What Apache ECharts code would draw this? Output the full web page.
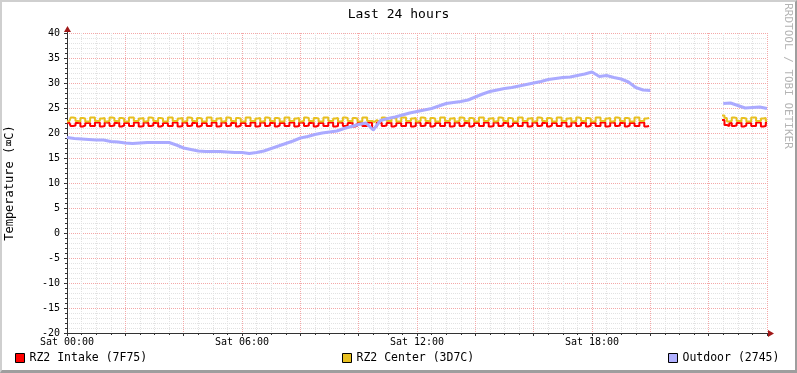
<!DOCTYPE html>
<html>
<head>
<meta charset="utf-8">
<script src="https://cdn.jsdelivr.net/npm/echarts@6/dist/echarts.min.js"></script>
<style>
html,body{margin:0;padding:0;background:#fff;}
#wrap{position:relative;width:797px;height:373px;}
#c{position:absolute;left:0;top:0;width:797px;height:373px;}
#frame{position:absolute;left:0;top:0;width:797px;height:373px;box-sizing:border-box;
border-top:2px solid #cfcfcf;border-left:2px solid #cfcfcf;border-bottom:3px solid #9e9e9e;border-right:2px solid #9e9e9e;pointer-events:none;}
</style>
</head>
<body>
<div id="wrap"><div id="c"></div><div id="frame"></div></div>
<script>
// 5-minute samples 00:00 - 19:55
const intakeA = [
22.1,22.0,21.4,21.5, 22.0,22.1,21.3,21.5, 22.0,22.0,21.4,21.4, 22.1,22.1,21.3,21.4, 22.1,22.0,21.4,21.5,
22.0,22.1,21.3,21.5, 22.0,22.0,21.4,21.4, 22.1,22.1,21.3,21.4, 22.1,22.0,21.4,21.5, 22.0,22.1,21.3,21.5,
22.0,22.0,21.4,21.4, 22.1,22.1,21.3,21.4, 22.1,22.0,21.4,21.5, 22.0,22.1,21.3,21.5, 22.0,22.0,21.4,21.4,
22.1,22.1,21.3,21.4, 22.1,22.0,21.4,21.5, 22.0,22.1,21.3,21.5, 22.0,22.0,21.4,21.4, 22.1,22.1,21.3,21.4,
22.1,22.0,21.4,21.5, 22.0,22.1,21.3,21.5, 22.0,22.0,21.4,21.4, 22.1,22.1,21.3,21.4, 22.1,22.0,21.4,21.5,
22.0,22.1,21.3,21.5, 22.0,22.0,21.4,21.4, 22.1,22.1,21.3,21.4, 22.1,22.0,21.4,21.5, 22.0,22.1,21.3,21.5,
22.0,22.0,21.4,21.4, 22.1,22.1,21.0,21.3, 22.1,22.0,21.4,21.5, 22.0,22.1,21.3,21.5, 22.0,22.0,21.4,21.4,
22.1,22.1,21.3,21.4, 22.1,22.0,21.4,21.5, 22.0,22.1,21.3,21.5, 22.0,22.0,21.4,21.4, 22.1,22.1,21.3,21.4,
22.1,22.0,21.4,21.5, 22.0,22.1,21.3,21.5, 22.0,22.0,21.4,21.4, 22.1,22.1,21.3,21.4, 22.1,22.0,21.4,21.5,
22.0,22.1,21.3,21.5, 22.0,22.0,21.4,21.4, 22.1,22.1,21.3,21.4, 22.1,22.0,21.4,21.5, 22.0,22.1,21.3,21.5,
22.0,22.0,21.4,21.4, 22.1,22.1,21.3,21.4, 22.1,22.0,21.4,21.5, 22.0,22.1,21.3,21.5, 22.0,22.0,21.4,21.4,
22.1,22.1,21.3,21.4, 22.1,22.0,21.4,21.5, 22.0,22.1,21.3,21.5, 22.0,22.0,21.4,21.4, 22.1,22.1,21.3,21.4
];
// 5-minute samples 22:30 - 24:00
const intakeB = [22.6,21.6,21.4,22.0,21.4,21.5, 22.0,22.1,21.3,21.5, 22.0,22.0,21.4,21.4, 22.1,22.1,21.3,21.4, 22.1];

const centerA = [
22.3,22.4,23.1,23.0, 22.4,22.3,23.0,22.9, 22.3,22.3,23.1,23.1, 22.4,22.4,22.9,23.0, 22.3,22.4,23.1,23.0,
22.4,22.3,23.0,22.9, 22.3,22.3,23.1,23.1, 22.4,22.4,22.9,23.0, 22.3,22.4,23.1,23.0, 22.4,22.3,23.0,22.9,
22.3,22.3,23.1,23.1, 22.4,22.4,22.9,23.0, 22.3,22.4,23.1,23.0, 22.4,22.3,23.0,22.9, 22.3,22.3,23.1,23.1,
22.4,22.4,22.9,23.0, 22.3,22.4,23.1,23.0, 22.4,22.3,23.0,22.9, 22.3,22.3,23.1,23.1, 22.4,22.4,22.9,23.0,
22.3,22.4,23.1,23.0, 22.4,22.3,23.0,22.9, 22.3,22.3,23.1,23.1, 22.4,22.4,22.9,23.0, 22.3,22.4,23.1,23.0,
22.4,22.3,23.0,22.9, 22.3,22.3,23.1,23.1, 22.4,22.4,22.9,23.0, 22.3,22.4,23.1,23.0, 22.4,22.3,23.0,22.9,
22.3,22.3,23.1,23.1, 22.4,22.4,22.2,22.6, 22.3,22.4,23.1,23.0, 22.4,22.3,23.0,22.9, 22.3,22.3,23.1,23.1,
22.4,22.4,22.9,23.0, 22.3,22.4,23.1,23.0, 22.4,22.3,23.0,22.9, 22.3,22.3,23.1,23.1, 22.4,22.4,22.9,23.0,
22.3,22.4,23.1,23.0, 22.4,22.3,23.0,22.9, 22.3,22.3,23.1,23.1, 22.4,22.4,22.9,23.0, 22.3,22.4,23.1,23.0,
22.4,22.3,23.0,22.9, 22.3,22.3,23.1,23.1, 22.4,22.4,22.9,23.0, 22.3,22.4,23.1,23.0, 22.4,22.3,23.0,22.9,
22.3,22.3,23.1,23.1, 22.4,22.4,22.9,23.0, 22.3,22.4,23.1,23.0, 22.4,22.3,23.0,22.9, 22.3,22.3,23.1,23.1,
22.4,22.4,22.9,23.0, 22.3,22.4,23.1,23.0, 22.4,22.3,23.0,22.9, 22.3,22.3,23.1,23.1, 22.4,22.4,22.9,23.0
];
const centerB = [23.5,23.0,22.3,22.4,23.1,23.0, 22.4,22.3,23.0,22.9, 22.3,22.3,23.1,23.1, 22.4,22.4,22.9,23.0, 22.4];

// 15-minute samples 00:00 - 20:00
const outdoorA = [
19.1,18.9,18.8,18.7, 18.6,18.6,18.3,18.2, 18.0,17.9,18.0,18.1, 18.1,18.1,18.1,17.6,
17.0,16.7,16.4,16.3, 16.3,16.3,16.2,16.1, 16.1,15.9,16.1,16.4, 16.9,17.4,17.9,18.4,
19.0,19.3,19.7,20.0, 20.2,20.4,20.9,21.3, 21.7,22.0,20.6,22.5, 22.9,23.2,23.6,24.0,
24.3,24.6,24.9,25.4, 25.9,26.1,26.3,26.6, 27.2,27.8,28.3,28.6, 28.9,29.1,29.4,29.7,
30.0,30.3,30.7,30.9, 31.1,31.2,31.5,31.8, 32.2,31.3,31.5,31.1, 30.8,30.2,29.1,28.6,
28.5
];
// 15-minute samples 22:30 - 24:00
const outdoorB = [25.9,26.0,25.5,25.0,25.1,25.2,24.9];

const names = ['RZ2 Intake (7F75)', 'RZ2 Center (3D7C)', 'Outdoor (2745)'];
const colors = ['#FF0000', '#E8C020', '#AAAAFF'];
const legendBoxColors = ['#FF0000', '#E8C020', '#B0B0FF'];
const xTickHours = [0, 6, 12, 18];

function build(a, gapCount, b, stepH) {
  const all = a.concat(new Array(gapCount).fill(null), b);
  return all.map((v, i) => [i * stepH, v]);
}
const intake = build(intakeA, 30, intakeB, 5 / 60);
const center = build(centerA, 30, centerB, 5 / 60);
const outdoor = build(outdoorA, 9, outdoorB, 15 / 60);

const FONT = 'DejaVu Sans Mono';
const chart = echarts.init(document.getElementById('c'), null, {renderer: 'canvas'});

function legendFor(i, left) {
  return {
    left: left, top: 352, padding: 0, itemGap: 0, selectedMode: false,
    itemWidth: 9, itemHeight: 9,
    textStyle: {fontFamily: FONT, fontSize: 11.5, color: '#000'},
    data: [{name: names[i], icon: 'rect', itemStyle: {color: legendBoxColors[i], borderColor: '#000', borderWidth: 1}}]
  };
}

const MAJOR = '#f4a8a8';
const MINOR = '#e2e2e2';
const option = {
  animation: false,
  backgroundColor: '#ffffff',
  title: {
    text: 'Last 24 hours', left: 'center', top: 3,
    textStyle: {fontFamily: FONT, fontSize: 13, fontWeight: 'normal', color: '#000'}
  },
  legend: [legendFor(0, 15), legendFor(1, 342), legendFor(2, 668)],
  grid: {left: 67, top: 33, width: 700, height: 300, containLabel: false, outerBoundsMode: 'none'},
  xAxis: {
    type: 'value', min: 0, max: 24, interval: 2,
    axisLine: {show: true, onZero: false, lineStyle: {color: '#333', width: 1}},
    axisTick: {show: true, length: 3, lineStyle: {color: '#333'}},
    minorTick: {show: true, splitNumber: 4, length: 2, lineStyle: {color: '#333'}},
    axisLabel: {
      fontFamily: FONT, fontSize: 10, color: '#000', margin: 4,
      formatter: v => xTickHours.indexOf(v) >= 0 ? 'Sat ' + String(v).padStart(2, '0') + ':00' : ''
    },
    splitLine: {show: true, lineStyle: {color: MAJOR, width: 1, type: [1, 1]}},
    minorSplitLine: {show: true, lineStyle: {color: MINOR, width: 1, type: [1, 1]}}
  },
  yAxis: {
    type: 'value', min: -20, max: 40, interval: 5,
    name: 'Temperature (\u2327C)', nameLocation: 'middle', nameGap: 51, nameRotate: 90,
    nameTextStyle: {fontFamily: FONT, fontSize: 12, color: '#000'},
    axisLine: {show: true, onZero: false, lineStyle: {color: '#333', width: 1}},
    axisTick: {show: true, length: 3, lineStyle: {color: '#333'}},
    minorTick: {show: true, splitNumber: 5, length: 2, lineStyle: {color: '#333'}},
    axisLabel: {fontFamily: FONT, fontSize: 10, color: '#000', margin: 7},
    splitLine: {show: true, lineStyle: {color: MAJOR, width: 1, type: [1, 1]}},
    minorSplitLine: {show: true, lineStyle: {color: MINOR, width: 1, type: [1, 1]}}
  },
  series: [
    {name: names[0], type: 'line', data: intake, showSymbol: false, symbol: 'none', connectNulls: false, step: 'middle',
     lineStyle: {color: colors[0], width: 2}, itemStyle: {color: colors[0]}},
    {name: names[1], type: 'line', data: center, showSymbol: false, symbol: 'none', connectNulls: false, step: 'middle',
     lineStyle: {color: colors[1], width: 2}, itemStyle: {color: colors[1]}},
    {name: names[2], type: 'line', data: outdoor, showSymbol: false, symbol: 'none', connectNulls: false,
     lineStyle: {color: colors[2], width: 3}, itemStyle: {color: colors[2]}}
  ]
};
chart.setOption(option);

// axis arrows and watermark
const xe = chart.convertToPixel({gridIndex: 0}, [24, -20]);
const ye = chart.convertToPixel({gridIndex: 0}, [0, 40]);
chart.setOption({
  graphic: [
    {type: 'line', shape: {x1: xe[0], y1: xe[1] + 0.5, x2: xe[0] + 5, y2: xe[1] + 0.5}, style: {stroke: '#333', lineWidth: 1}},
    {type: 'polygon', shape: {points: [[xe[0] + 1, xe[1] - 3], [xe[0] + 1, xe[1] + 4], [xe[0] + 7, xe[1] + 0.5]]}, style: {fill: '#a01818'}},
    {type: 'line', shape: {x1: ye[0] + 0.5, y1: ye[1], x2: ye[0] + 0.5, y2: ye[1] - 5}, style: {stroke: '#333', lineWidth: 1}},
    {type: 'polygon', shape: {points: [[ye[0] - 3, ye[1] - 1], [ye[0] + 4, ye[1] - 1], [ye[0] + 0.5, ye[1] - 7]]}, style: {fill: '#a01818'}},
    {type: 'text', x: 788, y: 76, rotation: -Math.PI / 2,
     style: {text: 'RRDTOOL / TOBI OETIKER', fontFamily: FONT, fontSize: 11, fill: '#b4b4b4', align: 'center', verticalAlign: 'middle'}}
  ]
});
</script>
</body>
</html>
